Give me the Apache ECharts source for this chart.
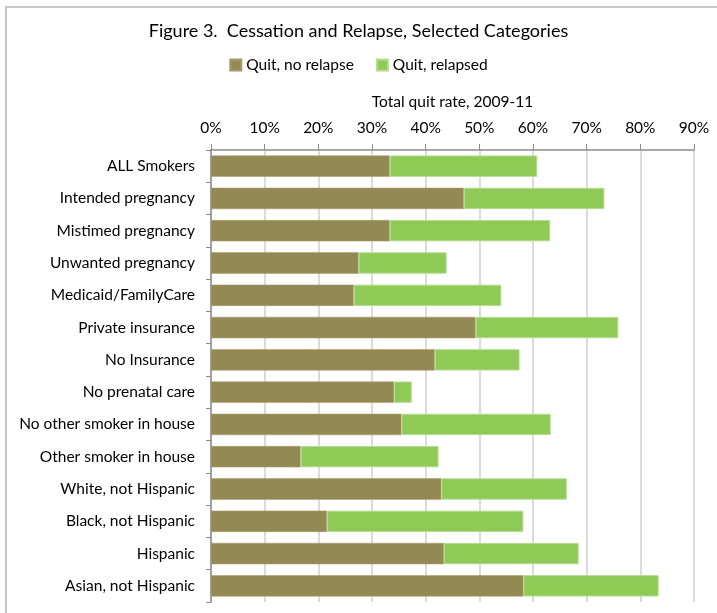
<!DOCTYPE html>
<html><head><meta charset="utf-8">
<script src="https://cdn.jsdelivr.net/npm/echarts@6/dist/echarts.min.js"></script>
<style>html,body{margin:0;padding:0;background:#fff}#c{width:717px;height:613px}</style>
</head><body><div id="c"></div>
<script>
const categories = ["ALL Smokers","Intended pregnancy","Mistimed pregnancy","Unwanted pregnancy","Medicaid/FamilyCare","Private insurance","No Insurance","No prenatal care","No other smoker in house","Other smoker in house","White, not Hispanic","Black, not Hispanic","Hispanic","Asian, not Hispanic"];
const quitNoRelapse = [33.3,47.1,33.3,27.5,26.6,49.3,41.7,34.1,35.5,16.7,42.9,21.6,43.4,58.2];
const quitTotal =     [60.8,73.3,63.2,43.9,54.1,75.9,57.5,37.4,63.3,42.4,66.3,58.2,68.5,83.4];
const quitRelapsed = quitTotal.map((t,i)=>+(t-quitNoRelapse[i]).toFixed(1));
const xTicks = [0,10,20,30,40,50,60,70,80,90];

const FONT = 'Lato';
const chart = echarts.init(document.getElementById('c'), null, {renderer:'canvas'});
chart.setOption({
  animation:false,
  textStyle:{fontFamily:FONT,color:'#000'},
  graphic:[{type:'rect',shape:{x:6,y:7,width:730,height:630},style:{fill:'none',stroke:'#c6c6c6',lineWidth:2},silent:true}],
  title:{text:'Figure 3.  Cessation and Relapse, Selected Categories',left:'center',top:17,
    textStyle:{fontFamily:FONT,fontSize:18,fontWeight:'normal',color:'#000'}},
  legend:{top:52,left:'center',itemWidth:11,itemHeight:11,itemGap:22,icon:'rect',
    textStyle:{fontFamily:FONT,fontSize:15.5,color:'#000'},
    data:['Quit, no relapse','Quit, relapsed']},
  grid:{left:211,right:23,top:150,bottom:11,containLabel:false},
  xAxis:{type:'value',position:'top',min:0,max:90,interval:10,
    name:'Total quit rate, 2009-11',nameLocation:'middle',nameGap:40,
    nameTextStyle:{fontFamily:FONT,fontSize:15.5,color:'#000'},
    axisLine:{show:true,lineStyle:{color:'#8c8c8c',width:1.5}},
    axisTick:{show:true,length:6,lineStyle:{color:'#8c8c8c'}},
    axisLabel:{fontFamily:FONT,fontSize:15.5,color:'#000',margin:14,formatter:v=>v+'%'},
    splitLine:{show:true,lineStyle:{color:'#cfcfcf',width:1.5}}},
  yAxis:{type:'category',inverse:true,data:categories,
    axisLine:{show:true,lineStyle:{color:'#8c8c8c',width:1.5}},
    axisTick:{show:true,length:5,lineStyle:{color:'#8c8c8c'}},
    axisLabel:{fontFamily:FONT,fontSize:15.5,color:'#000',margin:16}},
  series:[
    {name:'Quit, no relapse',type:'bar',stack:'a',data:quitNoRelapse,barCategoryGap:'34%',
      itemStyle:{color:'#938953',borderColor:'#a39b6c',borderWidth:0.5}},
    {name:'Quit, relapsed',type:'bar',stack:'a',data:quitRelapsed,barCategoryGap:'34%',
      itemStyle:{color:'#8fc956',borderColor:'#b4dc8f',borderWidth:1}}
  ]
});
</script></body></html>
